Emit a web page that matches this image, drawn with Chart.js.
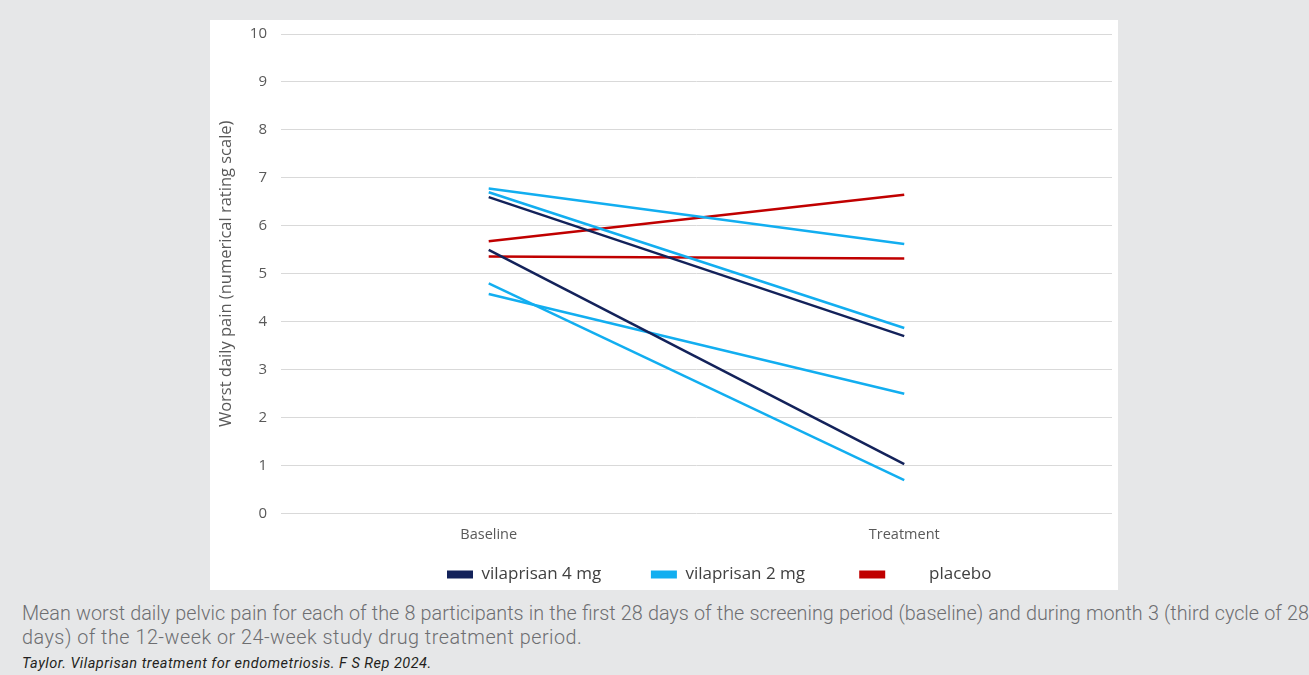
<!DOCTYPE html>
<html>
<head>
<meta charset="utf-8">
<script src="https://cdn.jsdelivr.net/npm/chart.js@4"></script>
<style>
  html, body { margin: 0; padding: 0; }
  body { width: 1309px; height: 675px; background: #e6e7e8; position: relative; overflow: hidden; font-family: "Open Sans", sans-serif; }
  #panel { position: absolute; left: 210px; top: 20px; width: 908px; height: 570px; background: #fff; }
  .cap { position: absolute; left: 22px; width: 1287px; font-family: Roboto, "Open Sans", sans-serif; font-weight: 300; font-size: 19.8px; line-height: 24px; color: #6d6e71; white-space: nowrap; }
  #cap1 { top: 602px; text-align: justify; text-align-last: justify; }
  #cap2 { top: 626px; letter-spacing: 0.5px; }
  #source { position: absolute; left: 22px; top: 655px; font-family: Roboto, "Open Sans", sans-serif; font-size: 14.5px; letter-spacing: 0.5px; font-style: italic; color: #231f20; }
</style>
</head>
<body>
<div id="panel"><canvas id="chart" width="908" height="570"></canvas></div>
<div class="cap" id="cap1">Mean worst daily pelvic pain for each of the 8 participants in the first 28 days of the screening period (baseline) and during month 3 (third cycle of 28</div>
<div class="cap" id="cap2">days) of the 12-week or 24-week study drug treatment period.</div>
<div id="source">Taylor. Vilaprisan treatment for endometriosis. F S Rep 2024.</div>
<script>
// ---------- Data ----------
const categories = ['Baseline', 'Treatment'];
const yTicks = [0, 1, 2, 3, 4, 5, 6, 7, 8, 9, 10];
// one [baseline, treatment] pair per participant
const vila4 = [[6.6, 3.7], [5.5, 1.03]];
const vila2 = [[6.78, 5.62], [6.7, 3.87], [4.8, 0.7], [4.58, 2.5]];
const placebo = [[5.68, 6.65], [5.36, 5.32]];

const groups = [
  { label: 'vilaprisan 4 mg', color: '#13225a', rows: vila4 },
  { label: 'vilaprisan 2 mg', color: '#12aef0', rows: vila2 },
  { label: 'placebo', color: '#c00000', rows: placebo },
];

const datasets = [];
groups.forEach((g) => {
  g.rows.forEach((r, i) => {
    datasets.push({
      label: g.label, data: r, first: i === 0,
      borderColor: g.color, backgroundColor: g.color,
      borderWidth: 2.5, pointRadius: 0, tension: 0,
    });
  });
});

// spacing between legend entries is wider than the text, like the Excel original
const LEGEND_TEXT = ['vilaprisan 4 mg         ', 'vilaprisan 2 mg          ', '        placebo'];

const legendLabels = (chart) => {
  let n = 0;
  return chart.data.datasets
    .map((d, i) => ({ d, i }))
    .filter(({ d }) => d.first)
    .map(({ d, i }) => ({
      text: LEGEND_TEXT[n++], fillStyle: d.borderColor, strokeStyle: d.borderColor,
      lineWidth: 0, datasetIndex: i, fontColor: '#404040',
    }));
};

// legend sits right of centre in the original
const legendShift = {
  id: 'legendShift',
  afterLayout(chart) { chart.legend.left = 227; chart.legend.top += 3; },
};

new Chart(document.getElementById('chart').getContext('2d'), {
  type: 'line',
  data: { labels: categories, datasets },
  plugins: [legendShift],
  options: {
    responsive: false, animation: false,
    layout: { padding: { left: 6, right: 6, top: 0, bottom: 0 } },
    plugins: {
      legend: {
        position: 'bottom', align: 'start',
        labels: {
          generateLabels: legendLabels,
          boxWidth: 26, boxHeight: 8, padding: 10,
          color: '#404040', font: { family: 'Open Sans', size: 17 },
        },
      },
      tooltip: { enabled: false },
    },
    scales: {
      x: {
        offset: true,
        grid: { display: false },
        border: { display: false },
        ticks: { color: '#595959', font: { family: 'Open Sans', size: 14.5 }, padding: 5 },
        afterFit: (ax) => { ax.height += 4; },
      },
      y: {
        min: 0, max: 10,
        afterBuildTicks: (ax) => { ax.ticks = yTicks.map((v) => ({ value: v })); },
        afterFit: (ax) => { ax.paddingTop = 14; },
        grid: { color: '#d9d9d9', drawTicks: false, lineWidth: 1 },
        border: { display: false },
        ticks: { color: '#595959', font: { family: 'Open Sans', size: 15 }, padding: 14 },
        title: { display: true, text: 'Worst daily pain (numerical rating scale)', color: '#595959', font: { family: 'Open Sans', size: 16.5 }, padding: 0 },
      },
    },
  },
});
</script>
</body>
</html>
